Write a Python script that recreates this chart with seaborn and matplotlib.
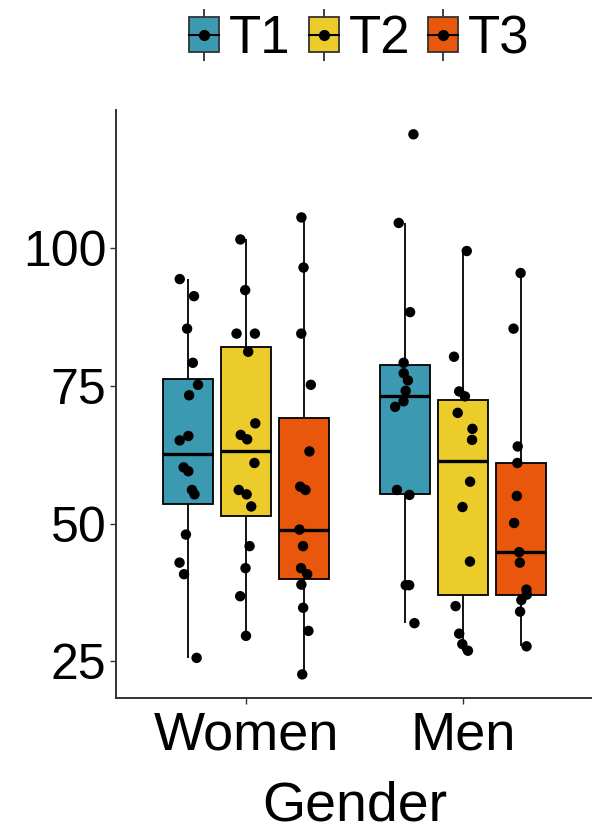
import numpy as np
import pandas as pd
import matplotlib.pyplot as plt
import seaborn as sns
from matplotlib.lines import Line2D
from matplotlib.patches import Patch
from matplotlib.legend_handler import HandlerTuple

# values
women_t1 = [94.4, 91.3, 85.4, 79.2, 75.2, 73.3, 65.9, 65.1, 60.2, 59.5, 56.1, 55.3, 48.0, 42.9, 40.8, 25.6]
women_t2 = [101.6, 92.4, 84.5, 84.5, 81.2, 68.2, 66.1, 65.3, 61.0, 56.1, 55.3, 53.1, 45.9, 41.9, 36.8, 29.6]
women_t3 = [105.6, 96.5, 84.5, 75.2, 63.1, 56.7, 56.1, 48.9, 45.9, 41.9, 40.8, 38.9, 34.7, 30.5, 22.6]
men_t1 = [120.7, 104.6, 88.4, 79.2, 77.3, 76.0, 74.1, 72.2, 71.2, 56.1, 55.2, 38.8, 38.8, 31.9]
men_t2 = [99.5, 80.3, 74.0, 73.1, 70.1, 67.2, 65.2, 57.6, 53.0, 43.1, 35.0, 30.0, 28.1, 26.9]
men_t3 = [95.5, 85.4, 64.0, 61.0, 55.0, 50.1, 44.8, 42.9, 38.0, 37.1, 36.1, 34.0, 27.7]

genders = ['Women', 'Men']
times = ['T1', 'T2', 'T3']
colors = ['#3B9AB2', '#EBCC2A', '#E8570C']
yticks = [25, 50, 75, 100]

groups = {('Women', 'T1'): women_t1, ('Women', 'T2'): women_t2, ('Women', 'T3'): women_t3,
          ('Men', 'T1'): men_t1, ('Men', 'T2'): men_t2, ('Men', 'T3'): men_t3}
rows = []
for (g, t), vals in groups.items():
    for v in vals:
        rows.append({'Gender': g, 'Time': t, 'value': v})
df = pd.DataFrame(rows)

plt.rcParams['font.family'] = ['Liberation Sans', 'DejaVu Sans']

fig = plt.figure(figsize=(5.92, 8.34), dpi=100)
ax = fig.add_axes([0.196, 0.163, 0.806, 0.705])

sns.boxplot(data=df, x='Gender', y='value', hue='Time', order=genders, hue_order=times,
            palette=colors, width=0.8, gap=0.13, showfliers=False, showcaps=False,
            linecolor='black', linewidth=1.3, medianprops={'linewidth': 2.4},
            saturation=1, legend=False, ax=ax)

np.random.seed(7)
sns.stripplot(data=df, x='Gender', y='value', hue='Time', order=genders, hue_order=times,
              palette=['black'] * 3, dodge=True, jitter=0.14, size=7.5,
              legend=False, ax=ax)

ax.set_xlim(-0.6, 1.6)
ax.set_ylim(18.3, 125.1)
ax.set_yticks(yticks)
ax.set_ylabel('')
ax.set_xlabel('Gender', fontsize=40, labelpad=14)
ax.tick_params(axis='both', length=4, width=1, color='#333333', labelsize=39, pad=5)
ax.tick_params(axis='y', labelsize=36, pad=3)
for s in ['top', 'right']:
    ax.spines[s].set_visible(False)
for s in ['left', 'bottom']:
    ax.spines[s].set_linewidth(1.4)
    ax.spines[s].set_color('#333333')

# legend keys: whisker, box, median + point
handles = []
for c in colors:
    whisk = Line2D([], [], marker='|', markersize=38, markeredgewidth=1.3,
                   color='#333333', linestyle='none')
    box = Patch(facecolor=c, edgecolor='#333333', linewidth=1.3)
    med = Line2D([], [], color='black', linewidth=1.5, marker='o', markersize=7)
    handles.append((whisk, box, med))
fig.legend(handles, times, handler_map={tuple: HandlerTuple(ndivide=1, pad=0)},
           loc='center', bbox_to_anchor=(0.607, 0.953), ncol=3, frameon=False,
           fontsize=38, handlelength=0.57, handleheight=0.65,
           handletextpad=0.19, columnspacing=0.34, borderpad=0)

plt.savefig('out.png', dpi=100)
